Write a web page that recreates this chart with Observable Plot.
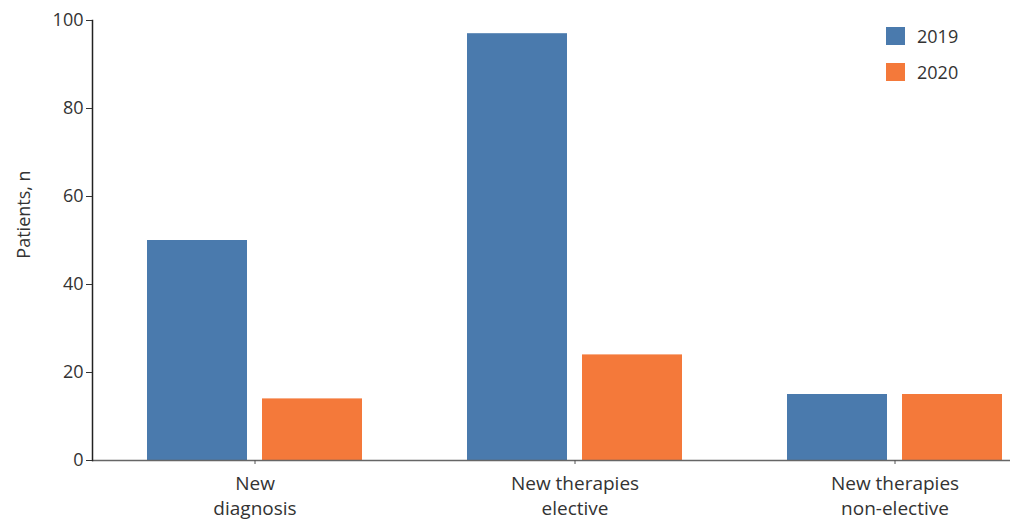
<!DOCTYPE html>
<html>
<head>
<meta charset="utf-8">
<script src="https://cdn.jsdelivr.net/npm/d3@7"></script>
<script src="https://cdn.jsdelivr.net/npm/@observablehq/plot@0.6"></script>
<style>
  html, body { margin: 0; padding: 0; background: #fff; }
  #wrap { position: relative; width: 1013px; height: 520px; font-family: "Open Sans", sans-serif; color: #333; }
  #legend { position: absolute; left: 886px; top: 27px; font-size: 18px; }
  .item { display: flex; align-items: center; height: 18px; margin-bottom: 18px; }
  .sw { width: 19px; height: 18px; margin-right: 12px; }
</style>
</head>
<body>
<div id="wrap"><div id="legend"></div></div>
<script>
const categories = ["New diagnosis", "New therapies elective", "New therapies non-elective"];
const tickLabels = ["New\ndiagnosis", "New therapies\nelective", "New therapies\nnon-elective"];
const years = ["2019", "2020"];
const values2019 = [50, 97, 15];
const values2020 = [14, 24, 15];
const colors = ["#4a7aad", "#f4793a"];
const yTicks = [0, 20, 40, 60, 80, 100];
const yLabel = "Patients, n";

const data2019 = categories.map((c, i) => ({category: c, year: years[0], value: values2019[i]}));
const data2020 = categories.map((c, i) => ({category: c, year: years[1], value: values2020[i]}));

const plot = Plot.plot({
  width: 1013,
  height: 520,
  marginTop: 20,
  marginBottom: 60,
  marginLeft: 92,
  marginRight: 3,
  style: {fontFamily: "Open Sans", fontSize: "18px", color: "#333", background: "transparent", overflow: "visible"},
  x: {domain: categories, paddingInner: 0.3271, paddingOuter: 0.0935, align: 0.8833, label: null},
  y: {domain: [0, 100], label: null},
  color: {domain: years, range: colors},
  marks: [
    Plot.barY(data2019, {x: "category", y: "value", fill: "year", insetRight: 115}),
    Plot.barY(data2020, {x: "category", y: "value", fill: "year", insetLeft: 115}),
    Plot.ruleY([0], {stroke: "#666", strokeWidth: 1.5}),
    Plot.frame({anchor: "left", stroke: "#222", strokeWidth: 1.5}),
    Plot.axisY({ticks: yTicks, tickSize: 6, tickPadding: 3, fontSize: 18, stroke: "#333", label: null}),
    Plot.axisX({tickSize: 4, tickPadding: 8, fontSize: 19, lineHeight: 1.3,
      stroke: "#555", tickFormat: d => tickLabels[categories.indexOf(d)], label: null}),
    Plot.text([yLabel], {frameAnchor: "left", textAnchor: "middle", rotate: -90, dx: -68, dy: -26, fontSize: 18, fill: "#333"})
  ]
});

const wrap = document.getElementById("wrap");
wrap.insertBefore(plot, wrap.firstChild);

// legend
const legend = d3.select("#legend");
years.forEach((yr, i) => {
  const it = legend.append("div").attr("class", "item");
  it.append("div").attr("class", "sw").style("background", colors[i]);
  it.append("span").text(yr);
});
</script>
</body>
</html>
